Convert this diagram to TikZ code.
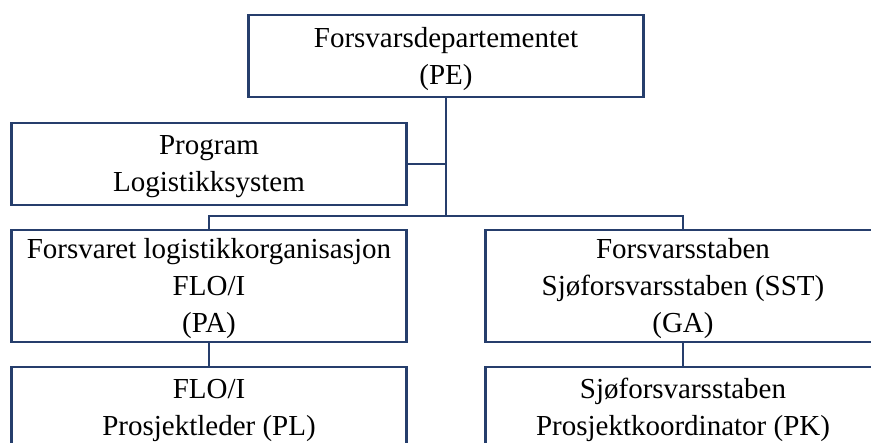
\documentclass[tikz,border=0pt]{standalone}
\usepackage{fontspec}
\setmainfont{Liberation Serif}
\definecolor{orgblue}{RGB}{38,62,108}
\begin{document}
\begin{tikzpicture}[x=1pt,y=-1pt,
  orgbox/.style={draw=orgblue, line width=2.3pt, inner sep=0pt, outer sep=0pt, minimum width=395pt},
  orgtxt/.style={inner sep=0pt, align=center, font=\fontsize{29}{37}\selectfont, text=black},
  conn/.style={draw=orgblue, line width=2.3pt}]
\path[use as bounding box, clip] (0,0) rectangle (871,443);
% boxes
\node[orgbox, minimum height=82pt] (pe) at (446,56) {};
\node[orgbox, minimum height=82pt] (prog) at (209,164) {};
\node[orgbox, minimum height=112pt] (flo) at (209,286) {};
\node[orgbox, minimum height=112pt] (fst) at (683,286) {};
\node[orgbox, minimum height=112pt] (flopl) at (209,423) {};
\node[orgbox, minimum height=112pt] (sjopk) at (683,423) {};
% texts
\node[orgtxt] (pe-t) at ([yshift=-3pt]pe.center) {Forsvarsdepartementet\\(PE)};
\node[orgtxt] (prog-t) at ([yshift=-3pt]prog.center) {Program\\Logistikksystem};
\node[orgtxt] (flo-t) at ([yshift=-3pt]flo.center) {Forsvaret logistikkorganisasjon\\FLO/I\\(PA)};
\node[orgtxt] (fst-t) at ([yshift=-3pt]fst.center) {Forsvarsstaben\\Sjøforsvarsstaben (SST)\\(GA)};
\node[orgtxt] (flopl-t) at ([yshift=13pt]flopl.center) {FLO/I\\Prosjektleder (PL)};
\node[orgtxt] (sjopk-t) at ([yshift=13pt]sjopk.center) {Sjøforsvarsstaben\\Prosjektkoordinator (PK)};
% connectors
\coordinate (bar) at (446,216);
\draw[conn] (pe.south) -- (bar);
\draw[conn] (prog.east) -- (prog.east -| bar);
\draw[conn] (flo.north) |- (bar) -| (fst.north);
\draw[conn] (flo.south) -- (flopl.north);
\draw[conn] (fst.south) -- (sjopk.north);
\end{tikzpicture}
\end{document}
